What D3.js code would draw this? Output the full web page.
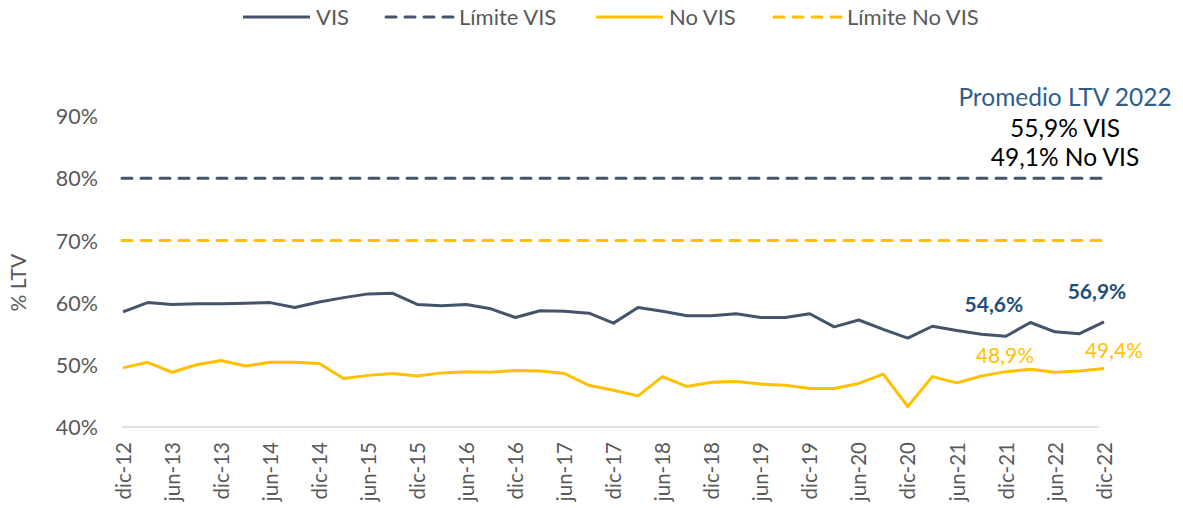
<!DOCTYPE html>
<html>
<head>
<meta charset="utf-8">
<script src="https://cdn.jsdelivr.net/npm/d3@7"></script>
<style>
  html, body { margin: 0; padding: 0; background: #fff; }
  svg { display: block; font-family: Lato, "Open Sans", sans-serif; }
</style>
</head>
<body>
<svg id="chart" width="1183" height="508"></svg>
<script>
// Quarterly LTV series, Dec-2012 .. Dec-2022
const quarters = [
  "dic-12","mar-13","jun-13","sep-13","dic-13","mar-14","jun-14","sep-14","dic-14",
  "mar-15","jun-15","sep-15","dic-15","mar-16","jun-16","sep-16","dic-16",
  "mar-17","jun-17","sep-17","dic-17","mar-18","jun-18","sep-18","dic-18",
  "mar-19","jun-19","sep-19","dic-19","mar-20","jun-20","sep-20","dic-20",
  "mar-21","jun-21","sep-21","dic-21","mar-22","jun-22","sep-22","dic-22"
];
const visValues = [
  58.5, 60.0, 59.7, 59.8, 59.8, 59.9, 60.0, 59.2, 60.1,
  60.8, 61.4, 61.5, 59.7, 59.5, 59.7, 59.0, 57.6,
  58.7, 58.6, 58.3, 56.7, 59.2, 58.6, 57.9, 57.9,
  58.2, 57.6, 57.6, 58.2, 56.1, 57.2, 55.7, 54.3,
  56.2, 55.5, 54.9, 54.6, 56.8, 55.3, 55.0, 56.9
];
const noVisValues = [
  49.5, 50.4, 48.8, 50.0, 50.7, 49.8, 50.4, 50.4, 50.2,
  47.8, 48.3, 48.6, 48.2, 48.7, 48.9, 48.8, 49.1,
  49.0, 48.6, 46.7, 45.9, 45.0, 48.1, 46.5, 47.2,
  47.3, 46.9, 46.7, 46.2, 46.2, 47.0, 48.5, 43.3,
  48.1, 47.1, 48.2, 48.9, 49.3, 48.8, 49.0, 49.4
];
const limitVis = 80;
const limitNoVis = 70;
const yTicks = [40, 50, 60, 70, 80, 90];
const legendLabels = ["VIS", "Límite VIS", "No VIS", "Límite No VIS"];
// Point labels: [quarter, series, value]
const pointLabels = [
  ["dic-21", "vis", 54.6], ["dic-22", "vis", 56.9],
  ["dic-21", "novis", 48.9], ["dic-22", "novis", 49.4]
];
const summaryTitle = "Promedio LTV 2022";
const summaryLines = ["55,9% VIS", "49,1% No VIS"];

const C_VIS = "#44546A";
const C_NOVIS = "#FFC000";
const C_VIS_LABEL = "#1F4E79";
const C_TEXT = "#595959";

const svg = d3.select("#chart");

const x = d3.scalePoint().domain(quarters).range([123, 1104]);
const y = d3.scaleLinear().domain([40, 90]).range([427, 116]);

const fmt = v => d3.format(".1f")(v).replace(".", ",") + "%";

// Baseline axis at 40%
svg.append("line")
  .attr("x1", x(quarters[0]) - 1).attr("x2", x(quarters[quarters.length - 1]) - 5)
  .attr("y1", y(40)).attr("y2", y(40))
  .attr("stroke", "#D9D9D9").attr("stroke-width", 1.3);

// Y axis tick labels
const yAxis = d3.axisLeft(y).tickValues(yTicks).tickFormat(d => d + "%").tickSize(0).tickPadding(0);
const yg = svg.append("g").attr("transform", "translate(98,0)").call(yAxis);
yg.select(".domain").remove();
yg.selectAll("text")
  .attr("font-family", "Lato, sans-serif")
  .attr("font-size", 21.5).attr("fill", C_TEXT).attr("dy", "0.36em");

// Y axis title
svg.append("text")
  .attr("transform", `translate(26,${y(63.2)}) rotate(-90)`)
  .attr("text-anchor", "middle")
  .attr("font-size", 21).attr("fill", C_TEXT)
  .text("% LTV");

// X axis labels (every second quarter)
const xAxis = d3.axisBottom(x)
  .tickValues(quarters.filter((d, i) => i % 2 === 0))
  .tickSize(0).tickPadding(0);
const xg = svg.append("g").attr("transform", `translate(0,${y(40)})`).call(xAxis);
xg.select(".domain").remove();
xg.selectAll("text")
  .attr("font-family", "Lato, sans-serif")
  .attr("font-size", 20.5).attr("fill", C_TEXT)
  .attr("text-anchor", "end")
  .attr("transform", "rotate(-90)")
  .attr("x", -15).attr("y", 0).attr("dy", "0.35em");

// Limit lines
const limitLine = (val, color) => svg.append("line")
  .attr("x1", x(quarters[0]) - 1).attr("x2", x(quarters[quarters.length - 1]))
  .attr("y1", y(val)).attr("y2", y(val))
  .attr("stroke", color).attr("stroke-width", 3)
  .attr("stroke-dasharray", "10 9").attr("stroke-linecap", "round");
limitLine(limitVis, C_VIS);
limitLine(limitNoVis, C_NOVIS);

// Series lines
const line = d3.line().x((d, i) => x(quarters[i])).y(d => y(d));
svg.append("path").datum(noVisValues)
  .attr("d", line).attr("fill", "none")
  .attr("stroke", C_NOVIS).attr("stroke-width", 3).attr("stroke-linejoin", "round");
svg.append("path").datum(visValues)
  .attr("d", line).attr("fill", "none")
  .attr("stroke", C_VIS).attr("stroke-width", 3).attr("stroke-linejoin", "round");

// Point value labels (offsets per label)
const labelOffsets = {
  "dic-21|vis": [-12, -24], "dic-22|vis": [-7, -23],
  "dic-21|novis": [-1, -9], "dic-22|novis": [10, -11]
};
pointLabels.forEach(([q, s, v]) => {
  const isVis = s === "vis";
  const [dx, dy] = labelOffsets[q + "|" + s];
  svg.append("text")
    .attr("x", x(q) + dx)
    .attr("y", y(v) + dy)
    .attr("text-anchor", "middle")
    .attr("font-size", 21)
    .attr("font-weight", isVis ? "bold" : "normal")
    .attr("fill", isVis ? C_VIS_LABEL : C_NOVIS)
    .text(fmt(v));
});

// Summary text block
const sumG = svg.append("g").attr("text-anchor", "middle").attr("font-size", 24.5);
sumG.append("text").attr("x", 1065).attr("y", 106).attr("fill", "#2F5D8A").text(summaryTitle);
summaryLines.forEach((t, i) => {
  sumG.append("text").attr("x", 1065).attr("y", 137 + i * 29).attr("fill", "#000").text(t);
});

// Legend
const legendItems = [
  { label: legendLabels[0], color: C_VIS, dash: null, x0: 243 },
  { label: legendLabels[1], color: C_VIS, dash: "10 9", x0: 386 },
  { label: legendLabels[2], color: C_NOVIS, dash: null, x0: 596 },
  { label: legendLabels[3], color: C_NOVIS, dash: "10 9", x0: 774 }
];
const lg = svg.append("g");
legendItems.forEach(it => {
  lg.append("line")
    .attr("x1", it.x0).attr("x2", it.x0 + 67)
    .attr("y1", 17).attr("y2", 17)
    .attr("stroke", it.color).attr("stroke-width", 3)
    .attr("stroke-dasharray", it.dash)
    .attr("stroke-linecap", it.dash ? "round" : "butt");
  lg.append("text")
    .attr("x", it.x0 + 73).attr("y", 17).attr("dy", "0.36em")
    .attr("font-size", 22).attr("fill", C_TEXT)
    .text(it.label);
});
</script>
</body>
</html>
